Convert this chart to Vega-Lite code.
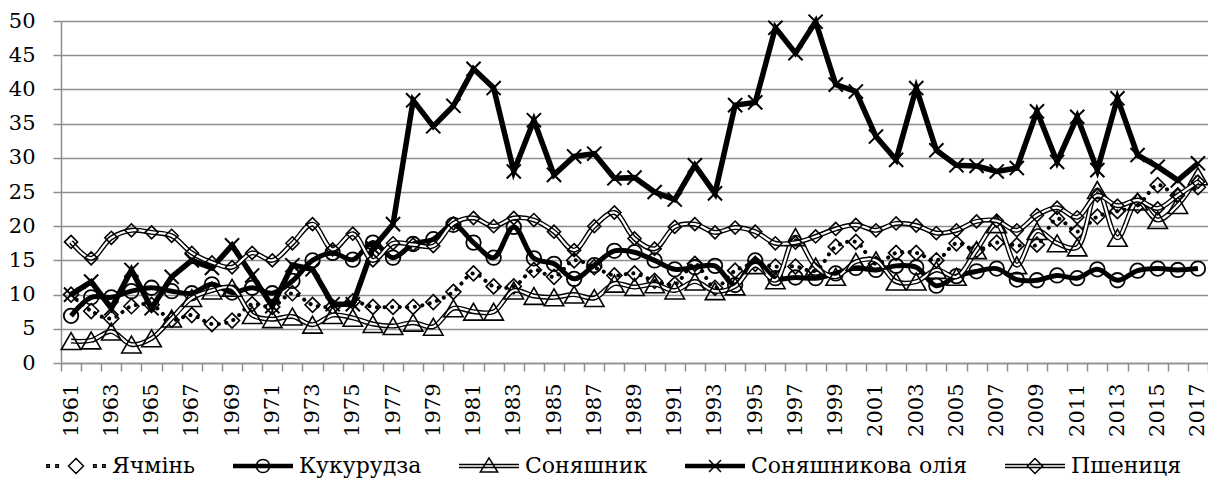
{
  "$schema": "https://vega.github.io/schema/vega-lite/v6.json",
  "width": 1147,
  "height": 342,
  "autosize": {"type": "none"},
  "padding": {"left": 61, "top": 21, "right": 0, "bottom": 130},
  "background": "white",
  "config": {"view": {"stroke": null}, "font": "DejaVu Serif"},
  "data": {"values": [
    {"year":1961,"Ячмінь":10.0,"Кукурудза":6.9,"Соняшник":3.2,"Соняшникова олія":10.0,"Пшениця":17.7},
    {"year":1962,"Ячмінь":7.6,"Кукурудза":9.6,"Соняшник":3.3,"Соняшникова олія":11.9,"Пшениця":15.3},
    {"year":1963,"Ячмінь":6.5,"Кукурудза":9.6,"Соняшник":4.6,"Соняшникова олія":8.0,"Пшениця":18.3},
    {"year":1964,"Ячмінь":8.3,"Кукурудза":10.5,"Соняшник":2.7,"Соняшникова олія":13.6,"Пшениця":19.4},
    {"year":1965,"Ячмінь":8.5,"Кукурудза":11.0,"Соняшник":3.6,"Соняшникова олія":8.0,"Пшениця":19.1},
    {"year":1966,"Ячмінь":6.3,"Кукурудза":10.5,"Соняшник":6.5,"Соняшникова олія":12.6,"Пшениця":18.6},
    {"year":1967,"Ячмінь":7.0,"Кукурудза":10.2,"Соняшник":9.5,"Соняшникова олія":15.0,"Пшениця":16.1},
    {"year":1968,"Ячмінь":5.7,"Кукурудза":11.5,"Соняшник":10.6,"Соняшникова олія":13.9,"Пшениця":14.7},
    {"year":1969,"Ячмінь":6.2,"Кукурудза":10.3,"Соняшник":11.0,"Соняшникова олія":17.2,"Пшениця":14.0},
    {"year":1970,"Ячмінь":8.6,"Кукурудза":11.0,"Соняшник":7.0,"Соняшникова олія":12.8,"Пшениця":16.1},
    {"year":1971,"Ячмінь":8.2,"Кукурудза":10.2,"Соняшник":6.4,"Соняшникова олія":8.3,"Пшениця":15.0},
    {"year":1972,"Ячмінь":10.2,"Кукурудза":12.0,"Соняшник":6.8,"Соняшникова олія":14.3,"Пшениця":17.5},
    {"year":1973,"Ячмінь":8.5,"Кукурудза":15.0,"Соняшник":5.6,"Соняшникова олія":13.7,"Пшениця":20.3},
    {"year":1974,"Ячмінь":8.2,"Кукурудза":16.1,"Соняшник":7.0,"Соняшникова олія":8.6,"Пшениця":16.6},
    {"year":1975,"Ячмінь":9.0,"Кукурудза":15.1,"Соняшник":6.6,"Соняшникова олія":8.6,"Пшениця":18.9},
    {"year":1976,"Ячмінь":8.2,"Кукурудза":17.6,"Соняшник":5.7,"Соняшникова олія":16.8,"Пшениця":15.0},
    {"year":1977,"Ячмінь":8.2,"Кукурудза":15.4,"Соняшник":5.4,"Соняшникова олія":20.3,"Пшениця":17.5},
    {"year":1978,"Ячмінь":8.2,"Кукурудза":17.4,"Соняшник":5.9,"Соняшникова олія":38.4,"Пшениця":17.3},
    {"year":1979,"Ячмінь":8.9,"Кукурудза":18.1,"Соняшник":5.3,"Соняшникова олія":34.6,"Пшениця":17.1},
    {"year":1980,"Ячмінь":10.4,"Кукурудза":20.2,"Соняшник":8.0,"Соняшникова олія":37.6,"Пшениця":20.4},
    {"year":1981,"Ячмінь":13.1,"Кукурудза":17.6,"Соняшник":7.5,"Соняшникова олія":43.0,"Пшениця":21.2},
    {"year":1982,"Ячмінь":11.2,"Кукурудза":15.4,"Соняшник":7.5,"Соняшникова олія":40.2,"Пшениця":20.0},
    {"year":1983,"Ячмінь":11.2,"Кукурудза":19.9,"Соняшник":10.6,"Соняшникова олія":28.0,"Пшениця":21.2},
    {"year":1984,"Ячмінь":13.6,"Кукурудза":15.3,"Соняшник":9.8,"Соняшникова олія":35.5,"Пшениця":20.9},
    {"year":1985,"Ячмінь":12.6,"Кукурудза":14.5,"Соняшник":9.6,"Соняшникова олія":27.5,"Пшениця":19.2},
    {"year":1986,"Ячмінь":15.0,"Кукурудза":12.3,"Соняшник":10.0,"Соняшникова олія":30.2,"Пшениця":16.5},
    {"year":1987,"Ячмінь":14.0,"Кукурудза":14.3,"Соняшник":9.5,"Соняшникова олія":30.6,"Пшениця":20.0},
    {"year":1988,"Ячмінь":12.8,"Кукурудза":16.4,"Соняшник":11.6,"Соняшникова олія":27.0,"Пшениця":22.0},
    {"year":1989,"Ячмінь":13.1,"Кукурудза":16.2,"Соняшник":11.1,"Соняшникова олія":27.1,"Пшениця":18.2},
    {"year":1990,"Ячмінь":12.0,"Кукурудза":15.0,"Соняшник":11.5,"Соняшникова олія":25.0,"Пшениця":16.7},
    {"year":1991,"Ячмінь":11.5,"Кукурудза":13.7,"Соняшник":10.6,"Соняшникова олія":23.9,"Пшениця":19.9},
    {"year":1992,"Ячмінь":14.5,"Кукурудза":14.0,"Соняшник":11.9,"Соняшникова олія":28.9,"Пшениця":20.3},
    {"year":1993,"Ячмінь":11.0,"Кукурудза":14.2,"Соняшник":10.5,"Соняшникова олія":24.8,"Пшениця":19.1},
    {"year":1994,"Ячмінь":13.5,"Кукурудза":11.4,"Соняшник":11.2,"Соняшникова олія":37.7,"Пшениця":19.8},
    {"year":1995,"Ячмінь":14.5,"Кукурудза":15.0,"Соняшник":14.3,"Соняшникова олія":38.1,"Пшениця":19.2},
    {"year":1996,"Ячмінь":14.1,"Кукурудза":12.4,"Соняшник":12.1,"Соняшникова олія":49.0,"Пшениця":17.5},
    {"year":1997,"Ячмінь":14.1,"Кукурудза":12.5,"Соняшник":18.4,"Соняшникова олія":45.3,"Пшениця":17.6},
    {"year":1998,"Ячмінь":13.5,"Кукурудза":12.4,"Соняшник":14.1,"Соняшникова олія":49.9,"Пшениця":18.5},
    {"year":1999,"Ячмінь":17.0,"Кукурудза":13.1,"Соняшник":12.6,"Соняшникова олія":40.7,"Пшениця":19.6},
    {"year":2000,"Ячмінь":17.7,"Кукурудза":13.9,"Соняшник":14.8,"Соняшникова олія":39.7,"Пшениця":20.2},
    {"year":2001,"Ячмінь":14.5,"Кукурудза":13.6,"Соняшник":15.0,"Соняшникова олія":33.1,"Пшениця":19.4},
    {"year":2002,"Ячмінь":16.1,"Кукурудза":14.2,"Соняшник":11.9,"Соняшникова олія":29.7,"Пшениця":20.4},
    {"year":2003,"Ячмінь":16.1,"Кукурудза":14.0,"Соняшник":11.9,"Соняшникова олія":40.2,"Пшениця":20.1},
    {"year":2004,"Ячмінь":15.0,"Кукурудза":11.3,"Соняшник":13.6,"Соняшникова олія":31.1,"Пшениця":19.0},
    {"year":2005,"Ячмінь":17.5,"Кукурудза":12.7,"Соняшник":12.6,"Соняшникова олія":28.9,"Пшениця":19.4},
    {"year":2006,"Ячмінь":16.5,"Кукурудза":13.4,"Соняшник":16.5,"Соняшникова олія":28.8,"Пшениця":20.7},
    {"year":2007,"Ячмінь":17.6,"Кукурудза":13.8,"Соняшник":20.3,"Соняшникова олія":28.0,"Пшениця":20.8},
    {"year":2008,"Ячмінь":17.2,"Кукурудза":12.2,"Соняшник":14.3,"Соняшникова олія":28.5,"Пшениця":19.4},
    {"year":2009,"Ячмінь":17.3,"Кукурудза":12.1,"Соняшник":19.3,"Соняшникова олія":36.8,"Пшениця":21.6},
    {"year":2010,"Ячмінь":21.1,"Кукурудза":12.8,"Соняшник":17.5,"Соняшникова олія":29.4,"Пшениця":22.7},
    {"year":2011,"Ячмінь":19.2,"Кукурудза":12.4,"Соняшник":16.9,"Соняшникова олія":36.0,"Пшениця":21.3},
    {"year":2012,"Ячмінь":21.4,"Кукурудза":13.7,"Соняшник":25.3,"Соняшникова олія":28.2,"Пшениця":24.5},
    {"year":2013,"Ячмінь":22.2,"Кукурудза":12.1,"Соняшник":18.3,"Соняшникова олія":38.7,"Пшениця":23.0},
    {"year":2014,"Ячмінь":23.0,"Кукурудза":13.5,"Соняшник":23.6,"Соняшникова олія":30.4,"Пшениця":23.8},
    {"year":2015,"Ячмінь":26.0,"Кукурудза":13.8,"Соняшник":20.9,"Соняшникова олія":28.7,"Пшениця":22.6},
    {"year":2016,"Ячмінь":24.5,"Кукурудза":13.6,"Соняшник":23.1,"Соняшникова олія":26.7,"Пшениця":24.5},
    {"year":2017,"Ячмінь":25.7,"Кукурудза":13.8,"Соняшник":27.3,"Соняшникова олія":29.2,"Пшениця":26.5}
  ]},
  "transform": [{"fold": ["Ячмінь", "Кукурудза", "Соняшник", "Соняшникова олія", "Пшениця"], "as": ["s", "v"]}],
  "encoding": {
    "x": {
      "field": "year", "type": "ordinal",
      "scale": {"type": "band", "paddingInner": 0, "paddingOuter": 0},
      "bandPosition": 0.5,
      "axis": {
        "title": null, "labelAngle": -90, "labelExpr": "datum.value % 2 === 1 ? datum.label : ''",
        "tickBand": "extent", "tickSize": 8, "tickColor": "#8e8e8e", "tickWidth": 1.5,
        "domainColor": "#8e8e8e", "domainWidth": 1.5, "grid": false,
        "labelFont": "DejaVu Serif", "labelFontSize": 21, "labelColor": "black",
        "labelPadding": 12, "labelOverlap": false
      }
    },
    "y": {
      "field": "v", "type": "quantitative",
      "scale": {"domain": [0, 50], "nice": false, "zero": true},
      "axis": {
        "title": null, "values": [0, 5, 10, 15, 20, 25, 30, 35, 40, 45, 50],
        "grid": true, "gridColor": "#8e8e8e", "gridWidth": 1.5,
        "domainColor": "#8e8e8e", "domainWidth": 1.5, "tickColor": "#8e8e8e", "tickWidth": 1.5, "tickSize": 8,
        "labelFont": "DejaVu Serif", "labelFontSize": 21, "labelColor": "black", "labelPadding": 18
      }
    }
  },
  "layer": [
    {"transform": [{"filter": "datum.s === 'Ячмінь'"}],
     "mark": {"type": "line", "interpolate": "catmull-rom", "stroke": "black", "strokeWidth": 4, "strokeDash": [0.1, 7.5], "strokeCap": "round"}},
    {"transform": [{"filter": "datum.s === 'Ячмінь'"}],
     "mark": {"type": "point", "shape": "diamond", "size": 225, "filled": false, "color": "black", "strokeWidth": 1.6, "opacity": 1}},
    {"transform": [{"filter": "datum.s === 'Кукурудза'"}],
     "mark": {"type": "line", "interpolate": "catmull-rom", "stroke": "black", "strokeWidth": 5}},
    {"transform": [{"filter": "datum.s === 'Кукурудза'"}],
     "mark": {"type": "point", "shape": "circle", "size": 210, "filled": false, "color": "black", "strokeWidth": 1.8, "opacity": 1}},
    {"transform": [{"filter": "datum.s === 'Соняшник'"}],
     "mark": {"type": "line", "interpolate": "catmull-rom", "stroke": "black", "strokeWidth": 5}},
    {"transform": [{"filter": "datum.s === 'Соняшник'"}],
     "mark": {"type": "line", "interpolate": "catmull-rom", "stroke": "white", "strokeWidth": 2.2}},
    {"transform": [{"filter": "datum.s === 'Соняшник'"}],
     "mark": {"type": "point", "shape": "triangle-up", "size": 380, "filled": false, "color": "black", "strokeWidth": 1.6, "opacity": 1}},
    {"transform": [{"filter": "datum.s === 'Соняшникова олія'"}],
     "mark": {"type": "line", "interpolate": "linear", "stroke": "black", "strokeWidth": 5.5}},
    {"transform": [{"filter": "datum.s === 'Соняшникова олія'"}],
     "mark": {"type": "point", "shape": "M-1,-1L1,1M-1,1L1,-1", "size": 200, "filled": false, "color": "black", "strokeWidth": 2, "opacity": 1}},
    {"transform": [{"filter": "datum.s === 'Пшениця'"}],
     "mark": {"type": "line", "interpolate": "catmull-rom", "stroke": "black", "strokeWidth": 5}},
    {"transform": [{"filter": "datum.s === 'Пшениця'"}],
     "mark": {"type": "line", "interpolate": "catmull-rom", "stroke": "white", "strokeWidth": 2.2}},
    {"transform": [{"filter": "datum.s === 'Пшениця'"}],
     "mark": {"type": "point", "shape": "diamond", "size": 170, "filled": false, "color": "black", "strokeWidth": 1.6, "opacity": 1}},
    {"transform": [{"filter": "datum.year === 1961"}],
     "mark": {"type": "point", "filled": false, "color": "black", "opacity": 0, "strokeWidth": 1.5},
     "encoding": {
       "shape": {
         "field": "s", "type": "nominal",
         "scale": {
           "domain": ["Ячмінь", "Кукурудза", "Соняшник", "Соняшникова олія", "Пшениця"],
           "range": [
             "M-0.97,-0.04h0.08v0.08h-0.08z M-0.67,-0.04h0.08v0.08h-0.08z M0.59,-0.04h0.08v0.08h-0.08z M0.89,-0.04h0.08v0.08h-0.08z M0,-0.25L0.25,0L0,0.25L-0.25,0Z",
             "M-1,-0.05H1M-1,-0.017H1M-1,0.017H1M-1,0.05H1 M0.22,0A0.22,0.22 0 1 1 -0.22,0A0.22,0.22 0 1 1 0.22,0Z",
             "M-1,-0.05H1M-1,0.05H1 M0,-0.27L0.29,0.2L-0.29,0.2Z",
             "M-1,-0.05H1M-1,-0.017H1M-1,0.017H1M-1,0.05H1 M-0.2,-0.2L0.2,0.2M-0.2,0.2L0.2,-0.2",
             "M-1,-0.05H1M-1,0.05H1 M0,-0.25L0.25,0L0,0.25L-0.25,0Z"
           ]
         },
         "legend": {
           "orient": "none", "legendX": -16, "legendY": 414, "direction": "horizontal", "title": null,
           "symbolSize": 3600, "symbolStrokeWidth": 1.5, "symbolStrokeColor": "black", "symbolFillColor": "transparent",
           "labelFont": "DejaVu Serif", "labelFontSize": 22, "labelColor": "black", "labelOffset": 5, "labelLimit": 0,
           "columnPadding": 34,
           "encode": {"symbols": {"update": {"opacity": {"value": 1}, "stroke": {"value": "black"}, "fill": {"value": "transparent"}}}}
         }
       }
     }}
  ]
}
